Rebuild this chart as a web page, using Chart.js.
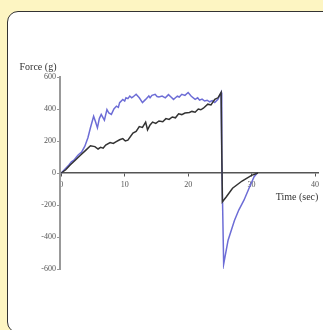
<!DOCTYPE html>
<html>
<head>
<meta charset="utf-8">
<script src="https://cdn.jsdelivr.net/npm/chart.js@4/dist/chart.umd.min.js"></script>
<style>
  html, body { margin: 0; padding: 0; width: 323px; height: 330px; overflow: hidden; background: #fdf5c2; }
  #panel { position: absolute; left: 7px; top: 11px; width: 340px; height: 322px; background: #ffffff; border: 1.5px solid #333; border-radius: 11px; box-sizing: border-box; }
  #wrap { position: absolute; left: 0; top: 0; width: 323px; height: 330px; }
</style>
</head>
<body>
<div id="panel"></div>
<div id="wrap"><canvas id="c" width="323" height="330"></canvas></div>
<script>
const xTicks = [0, 10, 20, 30, 40];
const yTicks = [-600, -400, -200, 0, 200, 400, 600];

const timeBlue = [0, 0.6, 1.2, 1.6, 2.0, 2.4, 2.7, 3.2, 3.7, 4.2, 4.6, 5.1, 5.4, 5.7, 6.0, 6.3, 6.6, 6.8, 7.2, 7.5, 7.9, 8.3, 8.7, 9.0, 9.2, 9.7, 10.0, 10.2, 10.5, 10.8, 11.1, 11.3, 11.8, 12.3, 12.8, 13.3, 13.8, 14.0, 14.3, 14.8, 15.1, 15.4, 15.9, 16.4, 16.9, 17.3, 17.7, 18.0, 18.3, 18.6, 19.0, 19.5, 20.0, 20.5, 21.1, 21.5, 21.8, 22.2, 22.6, 23.0, 23.4, 23.8, 24.2, 24.7, 25.2, 25.3, 25.6, 26.3, 27.3, 28.0, 28.8, 29.6, 30.4, 30.9];
const forceBlue = [0, 25, 50, 70, 80, 100, 114, 130, 166, 220, 283, 355, 320, 282, 340, 366, 345, 330, 397, 375, 366, 400, 418, 410, 440, 460, 450, 470, 465, 481, 470, 475, 492, 470, 440, 460, 481, 470, 485, 492, 478, 475, 481, 470, 490, 475, 460, 470, 480, 475, 492, 485, 503, 480, 460, 470, 455, 462, 450, 455, 445, 452, 440, 460, 503, 100, -570, -420, -297, -230, -170, -95, -23, 0];

const timeBlack = [0, 0.7, 1.4, 2.2, 3.1, 3.8, 4.6, 5.3, 5.8, 6.2, 6.6, 7.0, 7.7, 8.2, 8.6, 9.2, 9.7, 10.1, 10.5, 11.3, 11.8, 12.3, 12.8, 13.3, 13.6, 14.0, 14.4, 14.9, 15.4, 16.0, 16.5, 17.0, 17.5, 18.0, 18.5, 19.0, 19.5, 20.2, 20.6, 21.1, 21.6, 22.0, 22.4, 23.1, 23.6, 24.2, 24.7, 25.2, 25.4, 26.0, 27.0, 28.5, 30.0, 31.0];
const forceBlack = [0, 20, 50, 80, 114, 140, 170, 165, 150, 160, 155, 175, 190, 185, 195, 208, 215, 200, 205, 250, 260, 290, 285, 318, 270, 300, 318, 310, 325, 320, 340, 335, 350, 345, 370, 365, 375, 378, 385, 380, 400, 395, 405, 430, 425, 460, 470, 503, -180, -150, -95, -50, -15, 0];

const xTitle = "Time (sec)";
const yTitle = "Force (g)";

function toPoints(xs, ys) { return xs.map((x, i) => ({ x: x, y: ys[i] })); }

const titlesPlugin = {
  id: 'titles',
  afterDraw(chart) {
    const ctx = chart.ctx;
    const a = chart.chartArea;
    ctx.save();
    ctx.fillStyle = '#333';
    ctx.font = '10px "Liberation Serif", "DejaVu Serif", serif';
    ctx.textBaseline = 'middle';
    ctx.textAlign = 'center';
    ctx.fillText(yTitle, 38, a.top - 10);
    ctx.fillText(xTitle, 297, chart.scales.y.getPixelForValue(0) + 24);
    ctx.restore();
  }
};

new Chart(document.getElementById('c'), {
  type: 'scatter',
  data: {
    datasets: [
      { data: toPoints(timeBlack, forceBlack), showLine: true, borderColor: '#333333', borderWidth: 1.5, pointRadius: 0, tension: 0 },
      { data: toPoints(timeBlue, forceBlue), showLine: true, borderColor: '#6d6dd6', borderWidth: 1.5, pointRadius: 0, tension: 0 }
    ]
  },
  options: {
    responsive: false,
    animation: false,
    layout: { padding: { left: 0, right: 0, top: 77, bottom: 61 } },
    plugins: { legend: { display: false }, tooltip: { enabled: false } },
    scales: {
      x: {
        type: 'linear',
        position: { y: 0 },
        min: -0.2, max: 40.5,
        afterBuildTicks: s => { s.ticks = xTicks.map(v => ({ value: v })); },
        grid: { display: true, drawOnChartArea: false, drawTicks: true, tickLength: 3, color: '#555' },
        border: { display: true, color: '#555', width: 1.5 },
        ticks: { color: '#555', font: { size: 8, family: '"Liberation Serif", serif' }, padding: 4, maxRotation: 0 }
      },
      y: {
        type: 'linear',
        position: 'left',
        min: -600, max: 600,
        afterBuildTicks: s => { s.ticks = yTicks.map(v => ({ value: v })); },
        afterFit: s => { s.width = 60; },
        grid: { display: true, drawOnChartArea: false, drawTicks: true, tickLength: 3, color: '#999' },
        border: { display: true, color: '#999', width: 2 },
        ticks: { color: '#555', font: { size: 8, family: '"Liberation Serif", serif' }, padding: 1 }
      }
    }
  },
  plugins: [titlesPlugin]
});
</script>
</body>
</html>
